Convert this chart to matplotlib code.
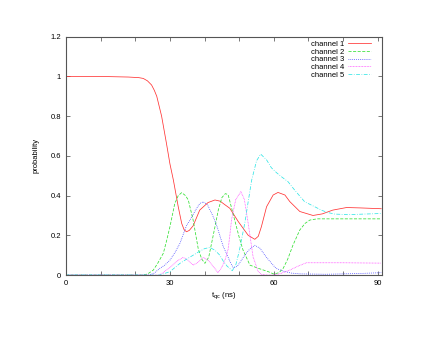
import matplotlib
matplotlib.use("Agg")
import matplotlib.pyplot as plt
from matplotlib.ticker import FuncFormatter, MultipleLocator

plt.rcParams['font.family'] = ['Liberation Sans', 'DejaVu Sans']

# channel 1
t1 = [0, 10, 18, 21, 22.3, 23.5, 24.7, 25.5, 26.2, 27.6, 29, 30, 31, 32.4, 33.4, 34.1, 34.8,
      35.6, 36.7, 38.6, 41, 43, 44.5, 45.8, 47.3, 49.7, 52.6, 54.5, 55.5, 56.4, 57.9, 59.8,
      61.2, 63.2, 64.6, 67.5, 71.3, 74, 77, 81, 85, 91]
p1 = [1.0, 1.0, 0.997, 0.994, 0.99, 0.978, 0.957, 0.93, 0.9, 0.8, 0.663, 0.56, 0.478, 0.344,
      0.26, 0.228, 0.218, 0.225, 0.248, 0.327, 0.365, 0.378, 0.372, 0.355, 0.336, 0.27, 0.2,
      0.18, 0.195, 0.243, 0.344, 0.403, 0.416, 0.403, 0.37, 0.32, 0.30, 0.308, 0.327, 0.34,
      0.338, 0.334]

# channel 2
t2 = [0, 22, 23.5, 25.2, 26.5, 28.1, 29, 30, 31.4, 32.4, 33.4, 34.5, 35.3, 36.7, 38.2, 39.2,
      40.1, 41.2, 42.5, 44, 45, 46, 46.8, 48.7, 50, 51.1, 53.1, 55.5, 58.4, 60, 61.5, 62.7,
      64, 65.5, 67.5, 69, 70.4, 72.5, 75, 80, 91]
p2 = [0, 0, 0.005, 0.025, 0.06, 0.11, 0.17, 0.243, 0.36, 0.40, 0.415, 0.40, 0.378, 0.277,
      0.13, 0.08, 0.059, 0.09, 0.2, 0.33, 0.39, 0.41, 0.405, 0.277, 0.19, 0.126, 0.05, 0.034,
      0.017, 0.005, 0.012, 0.034, 0.08, 0.15, 0.227, 0.26, 0.277, 0.283, 0.283, 0.283, 0.283]

# channel 3
t3 = [0, 24, 25.5, 27.1, 28.5, 30, 31.5, 32.9, 34.8, 35.8, 37.5, 38.6, 39.6, 40.8, 42.5, 43.5,
      45.4, 46.3, 47.3, 48.3, 49.5, 51.6, 53, 54.5, 56, 57.4, 58.8, 60.6, 62.7, 65, 67.5, 75,
      85, 91]
p3 = [0, 0, 0.01, 0.034, 0.05, 0.075, 0.115, 0.16, 0.25, 0.277, 0.33, 0.36, 0.369, 0.355,
      0.294, 0.25, 0.143, 0.11, 0.07, 0.035, 0.045, 0.1, 0.13, 0.15, 0.135, 0.1, 0.07, 0.034,
      0.02, 0.01, 0.006, 0.004, 0.008, 0.012]

# channel 4
t4 = [0, 27, 29, 30.5, 32, 33.8, 35.2, 36.7, 38.2, 39.6, 41, 42.2, 43.9, 45, 46, 46.8, 47.3,
      47.8, 49, 50.5, 51.5, 52.6, 54, 55.5, 56.5, 58, 60, 62, 64.6, 67, 69.4, 72, 80, 91]
p4 = [0, 0, 0.025, 0.045, 0.07, 0.089, 0.075, 0.05, 0.065, 0.089, 0.075, 0.05, 0.012, 0.04,
      0.08, 0.13, 0.2, 0.28, 0.38, 0.42, 0.38, 0.26, 0.092, 0.017, 0.003, 0, 0, 0.008, 0.025,
      0.045, 0.062, 0.062, 0.062, 0.06]

# channel 5
t5 = [0, 27, 30, 32.9, 34.8, 36.7, 38.6, 40, 41.5, 43, 44.4, 45.4, 46.5, 48, 49, 50, 51.6,
      52.6, 53.6, 55, 56.2, 57.9, 59.3, 60.8, 62.2, 64.1, 66, 68.9, 71.8, 73.7, 75.5, 77.6,
      81.4, 86, 91]
p5 = [0, 0, 0.017, 0.059, 0.08, 0.1, 0.12, 0.133, 0.139, 0.125, 0.1, 0.07, 0.045, 0.022,
      0.05, 0.12, 0.26, 0.37, 0.478, 0.575, 0.609, 0.58, 0.54, 0.515, 0.495, 0.47, 0.428,
      0.369, 0.344, 0.327, 0.315, 0.307, 0.304, 0.307, 0.31]

labels = ["channel 1", "channel 2", "channel 3", "channel 4", "channel 5"]
colors = ["#ff3333", "#33e033", "#3333ff", "#ff44ff", "#33e6e6"]
dashes = [None, (4, 2), (1, 1.5), (1, 1), (5, 2, 1, 2)]

fig = plt.figure(figsize=(4.4, 3.4), dpi=100)
ax = fig.add_axes([0.15, 0.191, 0.718, 0.701])

for t, p, lab, c, d in zip([t1, t2, t3, t4, t5], [p1, p2, p3, p4, p5], labels, colors, dashes):
    line, = ax.plot(t, p, color=c, lw=0.55, label=lab)
    if d is not None:
        line.set_dashes(d)

ax.set_xlim(0, 91.2)
ax.set_ylim(0, 1.2)
ax.xaxis.set_major_locator(MultipleLocator(10))
ax.yaxis.set_major_locator(MultipleLocator(0.2))
ax.xaxis.set_major_formatter(FuncFormatter(lambda v, pos: "%g" % v if round(v) % 30 == 0 else ""))
ax.yaxis.set_major_formatter(FuncFormatter(lambda v, pos: "%g" % round(v, 1)))
ax.tick_params(direction='in', top=True, right=True, length=3, width=0.5,
               labelsize=5.5, pad=3.5, color='#444444')
for s in ax.spines.values():
    s.set_color('#555555')
    s.set_linewidth(0.8)

ax.set_xlabel("t$_{\\rm qc}$ (ns)", fontsize=5.5, labelpad=3)
ax.set_ylabel("probability", fontsize=5.5, labelpad=8)

ax.legend(loc='upper right', bbox_to_anchor=(0.97, 0.99), frameon=False, fontsize=5.5,
          markerfirst=False, handlelength=3.0, handletextpad=0.5, labelspacing=0.05,
          borderpad=0.2, borderaxespad=0)

fig.savefig("out.png", dpi=100)
